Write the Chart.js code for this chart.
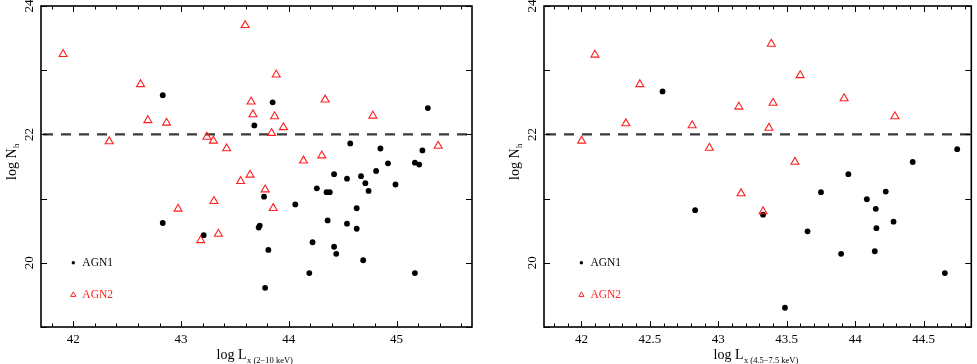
<!DOCTYPE html>
<html><head><meta charset="utf-8">
<script src="https://cdn.jsdelivr.net/npm/chart.js@4.4.0/dist/chart.umd.min.js"></script>
<style>
html,body{margin:0;padding:0;background:#fff;}
#wrap{position:relative;width:977px;height:364px;overflow:hidden;background:#fff;}
canvas{position:absolute;top:0;}
</style></head><body>
<div id="wrap">
<canvas id="c1" width="490" height="364" style="left:0px"></canvas>
<canvas id="c2" width="487" height="364" style="left:490px"></canvas>
</div>
<script>
// ---------- DATA ----------
// Left panel: log Lx (2-10 keV) vs log Nh
const leftAGN1X = [42.83,43.85,43.68,45.29,44.57,44.85,45.24,44.92,45.17,45.21,44.42,44.54,44.67,44.81,44.71,44.99,44.26,44.35,44.38,44.74,43.77,44.06,44.63,43.73,43.72,44.36,44.54,44.63,44.22,43.81,44.42,44.44,44.69,44.19,45.17,43.78,42.83,43.21];
const leftAGN1Y = [22.61,22.50,22.14,22.41,21.86,21.78,21.75,21.55,21.56,21.53,21.38,21.31,21.35,21.43,21.24,21.22,21.16,21.10,21.10,21.12,21.03,20.91,20.85,20.58,20.55,20.66,20.61,20.53,20.32,20.20,20.25,20.14,20.04,19.84,19.84,19.61,20.62,20.43];
const leftAGN2X = [41.905,42.333,42.624,42.692,42.865,43.24,43.30,43.423,43.595,43.883,43.65,43.667,43.868,43.95,43.84,44.337,44.78,45.386,44.306,44.136,43.64,43.553,43.78,43.855,43.305,42.972,43.346,43.182];
const leftAGN2Y = [23.25,21.89,22.78,22.22,22.18,21.96,21.90,21.78,23.70,22.93,22.51,22.31,22.28,22.11,22.02,22.54,22.29,21.82,21.67,21.59,21.37,21.27,21.14,20.85,20.96,20.84,20.45,20.35];
// Right panel: log Lx (4.5-7.5 keV) vs log Nh
const rightAGN1X = [42.593,43.95,44.42,44.745,43.75,44.223,44.085,44.15,44.28,44.155,43.327,43.652,43.897,44.143,44.655,43.487,42.831];
const rightAGN1Y = [22.67,21.38,21.57,21.77,21.10,21.11,20.99,20.84,20.64,20.54,20.75,20.49,20.14,20.18,19.84,19.30,20.82];
const rightAGN2X = [42.099,42.427,42.325,42.002,42.809,42.935,43.15,43.387,43.598,43.40,43.919,44.29,43.37,43.56,43.166,43.327];
const rightAGN2Y = [23.24,22.78,22.17,21.90,22.14,21.79,22.43,23.41,22.92,22.49,22.56,22.28,22.10,21.57,21.08,20.80];
// Tick labels
const leftXTicks = [42,43,44,45];
const rightXTicks = [42,42.5,43,43.5,44,44.5];
const yTicks = [20,22,24];
const nhThreshold = 22;
const seriesNames = ['AGN1','AGN2'];
const leftXTitleSub = 'x (2\u221210 keV)';
const rightXTitleSub = 'x (4.5\u22127.5 keV)';

// ---------- STYLE ----------
const RED = '#ff1f1f';
const SERIF = '"Liberation Serif", "DejaVu Serif", serif';

function decoPlugin(o){
  return {
    id:'deco',
    beforeDatasetsDraw(chart){
      const {ctx, chartArea:a, scales:{y}} = chart;
      const yy = y.getPixelForValue(nhThreshold);
      ctx.save();
      ctx.strokeStyle = '#3a3a3a';
      ctx.lineWidth = 2.2;
      ctx.setLineDash([10,8]);
      ctx.beginPath(); ctx.moveTo(a.left+2, yy); ctx.lineTo(a.right, yy); ctx.stroke();
      ctx.restore();
    },
    afterDatasetsDraw(chart){
      const {ctx, chartArea:a, scales:{x,y}} = chart;
      ctx.save();
      ctx.setLineDash([]);
      ctx.strokeStyle = '#000';
      ctx.lineWidth = 1.6;
      ctx.strokeRect(a.left, a.top, a.right-a.left, a.bottom-a.top);
      ctx.lineWidth = 1;
      // x ticks
      const eps = 1e-6;
      for (let k = Math.ceil(x.min/o.minorStep - eps); k*o.minorStep <= x.max+eps; k++){
        const v = k*o.minorStep;
        const isMajor = Math.abs(v/o.majorStep - Math.round(v/o.majorStep)) < 1e-4;
        const len = isMajor ? 6 : 3.5;
        const px = Math.round(x.getPixelForValue(v)) + 0.5;
        ctx.beginPath();
        ctx.moveTo(px, a.bottom); ctx.lineTo(px, a.bottom-len);
        ctx.moveTo(px, a.top); ctx.lineTo(px, a.top+len);
        ctx.stroke();
      }
      // y ticks
      for (let v = 19; v <= 24; v++){
        const py = Math.round(y.getPixelForValue(v)) + 0.5;
        ctx.beginPath();
        ctx.moveTo(a.left, py); ctx.lineTo(a.left+6, py);
        ctx.moveTo(a.right, py); ctx.lineTo(a.right-6, py);
        ctx.stroke();
      }
      // x tick labels
      ctx.fillStyle = '#000';
      ctx.font = '13px ' + SERIF;
      ctx.textAlign = 'center';
      ctx.textBaseline = 'alphabetic';
      o.xTicks.forEach(v => {
        ctx.fillText(String(v), x.getPixelForValue(v), a.bottom + 15.5);
      });
      // y tick labels (rotated)
      yTicks.forEach(v => {
        ctx.save();
        ctx.translate(a.left - 8, y.getPixelForValue(v));
        ctx.rotate(-Math.PI/2);
        ctx.textAlign = 'center';
        ctx.fillText(String(v), 0, 0);
        ctx.restore();
      });
      // x title
      const mainF = '14px ' + SERIF, subF = '8.5px ' + SERIF;
      ctx.font = mainF; const w1 = ctx.measureText('log L').width;
      ctx.font = subF; const w2 = ctx.measureText(o.sub).width;
      const cx = (a.left + a.right)/2 - 2;
      const sx = cx - (w1+w2)/2;
      ctx.textAlign = 'left';
      ctx.font = mainF; ctx.fillText('log L', sx, a.bottom + 32);
      ctx.font = subF; ctx.fillText(o.sub, sx + w1 + 0.5, a.bottom + 35.5);
      // y title
      ctx.save();
      ctx.translate(a.left - 25.5, 162);
      ctx.rotate(-Math.PI/2);
      ctx.font = mainF; const t1 = ctx.measureText('log N').width;
      ctx.font = subF; const t2 = ctx.measureText('h').width;
      ctx.textAlign = 'left';
      ctx.font = mainF; ctx.fillText('log N', -(t1+t2)/2, 0);
      ctx.font = subF; ctx.fillText('h', -(t1+t2)/2 + t1 + 0.5, 3);
      ctx.restore();
      // legend
      const lx = x.getPixelForValue(42);
      const ly1 = y.getPixelForValue(20), ly2 = y.getPixelForValue(19.5);
      ctx.fillStyle = '#000';
      ctx.beginPath(); ctx.arc(lx, ly1, 1.7, 0, Math.PI*2); ctx.fill();
      ctx.font = '11.5px ' + SERIF;
      ctx.textBaseline = 'middle';
      ctx.fillText(seriesNames[0], lx + 9, ly1 + 0.5);
      ctx.strokeStyle = RED; ctx.lineWidth = 1;
      const r = 3;
      ctx.beginPath();
      ctx.moveTo(lx, ly2 - r);
      ctx.lineTo(lx + r*0.866, ly2 + r/2);
      ctx.lineTo(lx - r*0.866, ly2 + r/2);
      ctx.closePath(); ctx.stroke();
      ctx.fillStyle = RED;
      ctx.fillText(seriesNames[1], lx + 9, ly2 + 0.5);
      ctx.restore();
    }
  };
}

function pts(xs, ys){ return xs.map((v,i)=>({x:v, y:ys[i]})); }

function makeChart(id, pad, xmin, xmax, a1x, a1y, a2x, a2y, deco){
  return new Chart(document.getElementById(id), {
    type:'scatter',
    data:{datasets:[
      {label:seriesNames[1], data:pts(a2x,a2y), pointStyle:'triangle', pointRadius:4.6,
       backgroundColor:'rgba(0,0,0,0)', borderColor:RED, borderWidth:1.1},
      {label:seriesNames[0], data:pts(a1x,a1y), pointStyle:'circle', pointRadius:2.9,
       backgroundColor:'#000', borderColor:'#000', borderWidth:0}
    ]},
    options:{
      responsive:false, animation:false, devicePixelRatio:1, events:[],
      layout:{padding:pad},
      plugins:{legend:{display:false}, tooltip:{enabled:false}},
      scales:{
        x:{type:'linear', min:xmin, max:xmax, display:false},
        y:{type:'linear', min:19, max:24, display:false}
      }
    },
    plugins:[deco]
  });
}

makeChart('c1', {left:41, right:18, top:6, bottom:37}, 41.7, 45.7,
  leftAGN1X, leftAGN1Y, leftAGN2X, leftAGN2Y,
  decoPlugin({minorStep:0.2, majorStep:1, xTicks:leftXTicks, sub:leftXTitleSub}));
makeChart('c2', {left:54, right:5, top:6, bottom:37}, 41.727, 44.848,
  rightAGN1X, rightAGN1Y, rightAGN2X, rightAGN2Y,
  decoPlugin({minorStep:0.1, majorStep:0.5, xTicks:rightXTicks, sub:rightXTitleSub}));
</script>
</body></html>
